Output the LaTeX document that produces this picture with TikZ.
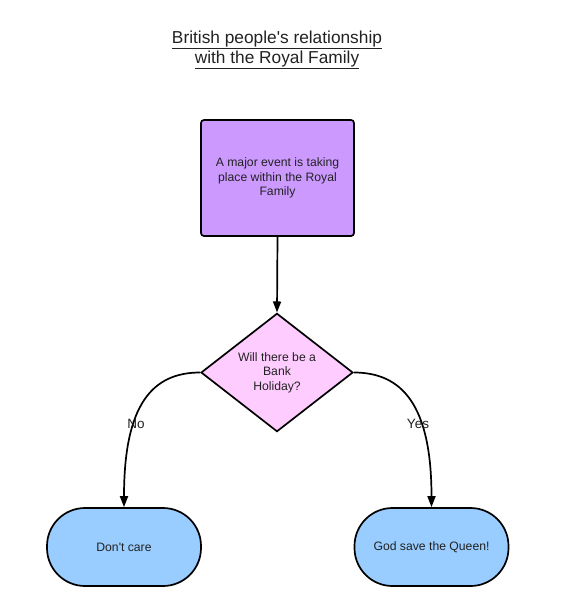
\documentclass[tikz,border=0pt]{standalone}
\usepackage{fontspec}
\setmainfont{Liberation Sans}[Ligatures=TeXOff]
\usetikzlibrary{shapes.geometric,arrows.meta}
\definecolor{boxpurple}{HTML}{CC99FF}
\definecolor{diapink}{HTML}{FFCCFF}
\definecolor{termblue}{HTML}{99CCFF}
\definecolor{txt}{HTML}{222222}
\tikzset{
  shapeline/.style={draw=black, line width=1.7pt},
  procbox/.style={shapeline, rectangle, rounded corners=3pt, fill=boxpurple,
    minimum width=153pt, minimum height=116pt, align=center,
    font=\fontsize{12.2}{14.5}\selectfont, text=txt, inner sep=0pt},
  decbox/.style={shapeline, diamond, fill=diapink, minimum width=152pt,
    minimum height=115pt, align=center, inner sep=0pt,
    font=\fontsize{12.2}{14.5}\selectfont, text=txt},
  termbox/.style={shapeline, rectangle, rounded corners=38pt, fill=termblue,
    minimum width=154pt, minimum height=78pt, align=center, inner sep=0pt,
    font=\fontsize{12.2}{14.5}\selectfont, text=txt},
  conn/.style={draw=black, line width=1.7pt, -{Triangle[length=11pt,width=8pt]}},
  lbl/.style={font=\fontsize{13.5}{15}\selectfont, text=txt, inner sep=0pt}
}
\begin{document}
\begin{tikzpicture}[x=1pt,y=-1pt]
\useasboundingbox (0,0) rectangle (565,600);
\node[align=center, font=\fontsize{17.3}{20}\selectfont, text=txt] (title) at (277,50)
  {\underline{British people's relationship}\\\underline{with the Royal Family}};
\node[procbox] (event) at (277.5,178) {A major event is taking\\place within the Royal\\Family};
\node[decbox] (q) at (277,372.5) {Will there be a\\Bank\\Holiday?};
\node[termbox] (no) at (124,547) {Don't care};
\node[termbox] (yes) at (431.5,547) {God save the Queen!};
\draw[conn] (event.south) -- (q.north);
\draw[conn] (q.west) .. controls (152,372.5) and (124,405) .. (no.north);
\draw[conn] (q.east) .. controls (402,372.5) and (431.5,405) .. (yes.north);
\node[lbl] (nolbl) at (136,423.5) {No};
\node[lbl] (yeslbl) at (418,423.5) {Yes};
\end{tikzpicture}
\end{document}
